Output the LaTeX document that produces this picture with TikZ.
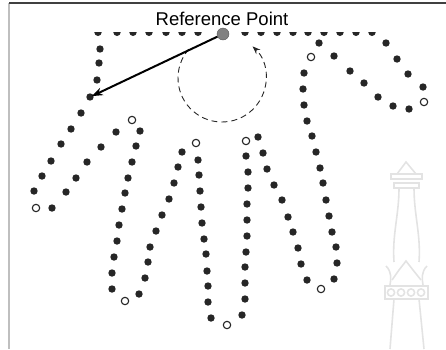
\documentclass[tikz,border=0pt]{standalone}
\usepackage{fontspec}
\setmainfont{Liberation Sans}
\usetikzlibrary{arrows.meta}

\tikzset{
	dot/.style={fill=black!85},
	hollow/.style={draw=black!85, line width=1.1pt, fill=white},
	ghost/.style={draw=black!11, line width=1.6pt},
}

\begin{document}
\begin{tikzpicture}[x=1pt,y=-1pt]
	\useasboundingbox (0,0) rectangle (446,349);
	% frame
	\draw[black!25, line width=2pt] (9,3) -- (9,349);
	\draw[black!75, line width=1.2pt] (9,3) -- (446,3);

	% faint pillar in the lower right corner
	\begin{scope}[ghost]
		\draw (397,174) -- (406,162) -- (416,174);
		\draw (391,174) rectangle (422,179);
		\draw (394,183) rectangle (419,188);
		\draw (399,188) .. controls (399,215) and (392,235) .. (394,262);
		\draw (414,188) .. controls (414,215) and (421,235) .. (419,262);
		\draw (386,266) .. controls (392,272) and (391,279) .. (390,285);
		\draw (427,266) .. controls (421,272) and (422,279) .. (423,285);
		\draw (392,280) -- (399,270) -- (406,261) -- (413,270) -- (421,280);
		\draw (385,286) rectangle (428,299);
		\foreach \x in {391,401,411,421}
			\draw (\x,292.5) circle[radius=3.6];
		\draw (394,299) -- (390,349);
		\draw (419,299) -- (424,349);
	\end{scope}

	% upper edge of the hand, cut flat at the top
	\begin{scope}
		\clip (0,32) rectangle (446,40);
		\foreach \x in {98,117,133,149,166,182,198,245,261,277,293,308,324,340,356,372}
			\fill[dot] (\x,32.3) circle[radius=3.7];
	\end{scope}

	% outline points
	\foreach \x/\y in {
		100/49, 99/63, 97/80, 90/97, 81/113, 71/129, 61/144, 51/161, 42/176, 34/191,
		52/208, 66/192, 76/178, 87/162, 101/147, 116/132,
		140/131, 136/146, 132/162, 128/178, 125/193, 122/209, 119/225, 117/241, 114/257, 112/273, 112/289,
		139/294, 145/278, 148/262, 150/247, 156/231, 162/215, 169/199, 174/183, 178/167, 182/152,
		198/160, 199/175, 200/191, 201/207, 202/223, 204/239, 206/254, 207/271, 208/286, 208/302, 211/318,
		242/315, 245/299, 245/283, 245/267, 246/252, 247/236, 247/220, 247/204, 248/188, 248/172, 246/156,
		258/137, 263/153, 267/169, 274/185, 282/200, 288/217, 293/232, 298/248, 301/264, 307/280,
		334/279, 337/263, 336/247, 332/232, 329/216, 326/200, 323/183, 320/168, 316/152, 312/136,
		307/121, 304/105, 303/89, 304/73, 319/43,
		334/56, 350/71, 364/83, 378/97, 393/106, 409/109,
		423/87, 408/74, 397/59, 386/43}
		\fill[dot] (\x,\y) circle[radius=3.7];

	% start and end points
	\foreach \x/\y in {36/208, 132/120, 125/301, 196/143, 227/325, 246/141, 321/289, 311/57, 424/102}
		\draw[hollow] (\x,\y) circle[radius=3.7];

	\coordinate (hand) at (90,97);
	\node[circle, fill=black!50, draw=black!65, minimum size=12pt, inner sep=0pt] (ref) at (223,34) {};
	\node[font=\fontsize{18.5}{20}\selectfont] (label) at (222,18.5) {Reference Point};

	% rotation about the reference point
	\draw[black!85, line width=0.9pt, dash pattern=on 6pt off 4pt, -{Stealth[length=8pt,width=6pt]}]
		(222,78) ++(-139:44) arc[start angle=-139, end angle=-406, radius=44];

	\draw[line width=2pt, -{Stealth[length=11pt,width=8pt]}, shorten >=2pt] (ref) -- (hand);
\end{tikzpicture}
\end{document}
